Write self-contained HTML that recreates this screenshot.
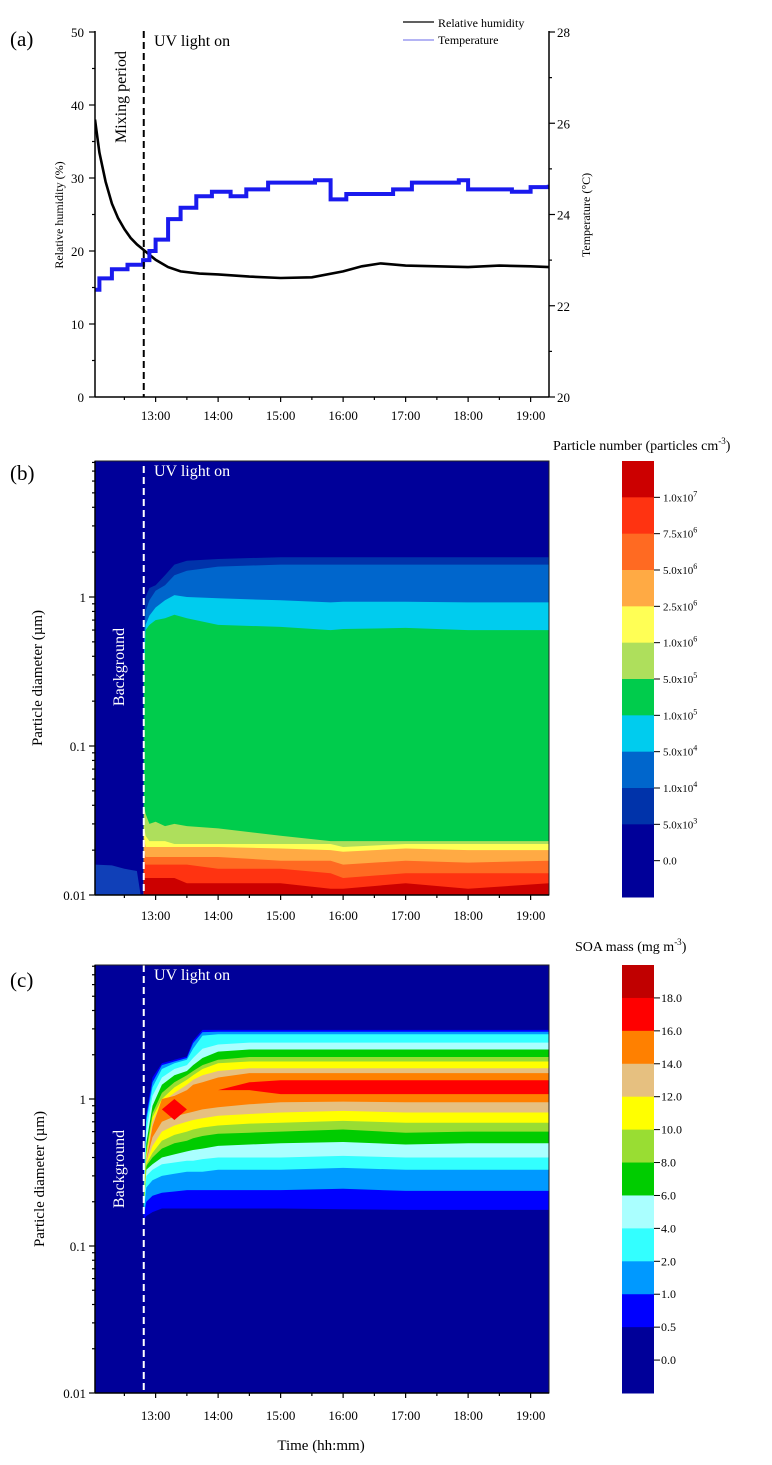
<!DOCTYPE html>
<html><head><meta charset="utf-8">
<style>
html,body{margin:0;padding:0;background:#fff;}
svg{display:block;font-family:"Liberation Serif",serif;}
</style></head>
<body>
<svg id="fig" width="772" height="1465" viewBox="0 0 772 1465" xmlns="http://www.w3.org/2000/svg">
<defs>
<clipPath id="clipA"><rect x="95" y="31" width="454" height="366"/></clipPath>
<clipPath id="clipB"><rect x="95" y="461" width="454" height="434"/></clipPath>
<clipPath id="clipC"><rect x="95" y="965" width="454" height="428"/></clipPath>
</defs>
</svg>
<script>
// ---------- Panel (a) data ----------
const rhTimes = [12.03,12.1,12.2,12.3,12.4,12.5,12.6,12.7,12.8,12.9,13.0,13.2,13.4,13.7,14.0,14.5,15.0,15.5,16.0,16.3,16.6,17.0,17.5,18.0,18.5,19.0,19.29];
const rhValues = [38,33.5,29.5,26.5,24.5,23,21.8,20.9,20.2,19.5,18.8,17.8,17.2,16.9,16.8,16.5,16.3,16.4,17.2,17.9,18.3,18.0,17.9,17.8,18.0,17.9,17.8];
const tempTimes = [12.03,12.1,12.3,12.55,12.8,12.9,13.0,13.2,13.4,13.65,13.9,14.2,14.45,14.8,15.55,15.8,16.05,16.5,16.8,17.1,17.85,18.0,18.7,19.0,19.29];
const tempValues = [22.35,22.6,22.8,22.9,23.0,23.2,23.45,23.9,24.15,24.4,24.5,24.4,24.55,24.7,24.75,24.33,24.45,24.45,24.55,24.7,24.75,24.55,24.5,24.6,24.65];
const rhTicks = [0,10,20,30,40,50];
const tempTicks = [20,22,24,26,28];
const hourTicks = [13,14,15,16,17,18,19];
const hourLabels = ["13:00","14:00","15:00","16:00","17:00","18:00","19:00"];
const uvOnTime = 12.81;

// ---------- Panel (b) data ----------
const bTimes = [12.81,12.84,12.9,13.0,13.15,13.3,13.5,14.0,15.0,15.8,16.0,17.0,18.0,19.29];
const bLevelLabels = ["5.0x10|3","1.0x10|4","5.0x10|4","1.0x10|5","5.0x10|5","1.0x10|6","2.5x10|6","5.0x10|6","7.5x10|6","1.0x10|7"];
const bColors = ["#000099","#0033aa","#0066cc","#00ccee","#00cc4c","#aedf5c","#ffff55","#ffaa44","#ff6a22","#ff3311","#cc0000"];
const bU1 = [0.6,1.0,1.15,1.2,1.4,1.65,1.75,1.8,1.85,1.85,1.85,1.85,1.85,1.85];
const bU2 = [0.5,0.8,0.95,1.1,1.2,1.4,1.5,1.6,1.65,1.65,1.65,1.65,1.65,1.65];
const bU3 = [0.4,0.65,0.75,0.85,0.95,1.03,1.0,0.98,0.95,0.92,0.93,0.93,0.92,0.92];
const bU4 = [0.3,0.6,0.65,0.7,0.72,0.76,0.72,0.65,0.63,0.6,0.61,0.62,0.6,0.6];
const bU5 = [0.04,0.035,0.03,0.031,0.029,0.03,0.029,0.028,0.025,0.023,0.023,0.023,0.023,0.023];
const bU6 = [0.03,0.025,0.023,0.023,0.023,0.022,0.022,0.022,0.022,0.022,0.021,0.022,0.022,0.022];
const bU7 = [0.025,0.021,0.021,0.021,0.021,0.021,0.021,0.021,0.0205,0.02,0.0195,0.0205,0.02,0.02];
const bU8 = [0.02,0.018,0.018,0.018,0.018,0.018,0.018,0.018,0.017,0.017,0.016,0.017,0.0165,0.017];
const bU9 = [0.017,0.016,0.016,0.016,0.016,0.016,0.016,0.015,0.015,0.014,0.013,0.014,0.014,0.014];
const bU10 = [0.013,0.013,0.013,0.013,0.013,0.013,0.012,0.012,0.012,0.011,0.011,0.012,0.011,0.012];
const bBackgroundTimes = [12.03,12.3,12.5,12.7,12.76];
const bBackgroundTop = [0.016,0.0158,0.015,0.0145,0.01];

// ---------- Panel (c) data ----------
const cTimes = [12.81,12.85,12.95,13.1,13.3,13.5,13.6,13.75,14.0,14.5,15.0,16.0,17.0,18.0,19.29];
const cLevelLabels = ["0.5","1.0","2.0","4.0","6.0","8.0","10.0","12.0","14.0","16.0","18.0"];
const cColors = ["#000099","#0000ff","#0099ff","#33ffff","#aaffff","#00cc00","#99dd33","#ffff00","#e6c080","#ff8000","#ff0000","#c00000"];
const cU05 = [0.3,0.8,1.4,1.75,1.85,1.95,2.5,2.95,2.95,2.95,2.95,2.95,2.95,2.95,2.95];
const cL05 = [0.15,0.16,0.17,0.18,0.18,0.18,0.18,0.18,0.18,0.18,0.18,0.178,0.176,0.176,0.176];
const cU1 = [0.28,0.75,1.3,1.7,1.8,1.9,2.4,2.85,2.87,2.87,2.87,2.87,2.87,2.87,2.87];
const cL1 = [0.16,0.2,0.22,0.23,0.235,0.24,0.24,0.24,0.24,0.24,0.24,0.245,0.237,0.237,0.237];
const cU2 = [0.26,0.7,1.2,1.6,1.75,1.85,2.2,2.7,2.76,2.76,2.76,2.76,2.76,2.76,2.76];
const cL2 = [0.17,0.25,0.28,0.3,0.31,0.32,0.32,0.32,0.33,0.33,0.33,0.34,0.33,0.33,0.33];
const cU4 = [0.24,0.6,1.05,1.4,1.6,1.7,1.9,2.2,2.35,2.42,2.42,2.42,2.42,2.42,2.42];
const cL4 = [0.18,0.3,0.33,0.36,0.37,0.38,0.38,0.39,0.4,0.4,0.4,0.41,0.4,0.4,0.4];
const cU6 = [0.22,0.5,0.9,1.25,1.45,1.55,1.7,1.9,2.1,2.17,2.17,2.17,2.17,2.17,2.17];
const cL6 = [0.18,0.33,0.36,0.4,0.42,0.44,0.45,0.46,0.48,0.49,0.5,0.51,0.49,0.5,0.5];
const cU8 = [0.21,0.45,0.8,1.1,1.3,1.45,1.55,1.7,1.85,1.93,1.93,1.93,1.93,1.93,1.93];
const cL8 = [0.19,0.35,0.4,0.46,0.5,0.52,0.54,0.56,0.58,0.59,0.6,0.62,0.59,0.6,0.6];
const cU10 = [0.2,0.42,0.75,1.0,1.2,1.35,1.45,1.6,1.75,1.8,1.8,1.8,1.8,1.8,1.8];
const cL10 = [0.19,0.36,0.43,0.52,0.57,0.6,0.62,0.64,0.66,0.68,0.69,0.71,0.69,0.69,0.69];
const cU12 = [0.19,0.4,0.7,0.95,1.1,1.25,1.35,1.45,1.55,1.62,1.62,1.62,1.62,1.62,1.62];
const cL12 = [0.19,0.37,0.48,0.6,0.66,0.7,0.72,0.74,0.77,0.79,0.81,0.83,0.81,0.81,0.81];
const cU14 = [0.19,0.38,0.65,1.0,1.05,1.15,1.25,1.3,1.4,1.5,1.5,1.5,1.5,1.5,1.5];
const cL14 = [0.19,0.38,0.55,0.7,0.76,0.8,0.82,0.85,0.88,0.92,0.95,0.96,0.95,0.95,0.95];
const cU16 = [0.19,0.38,0.6,0.85,1.0,0.85,0.95,1.05,1.15,1.3,1.34,1.34,1.34,1.34,1.34];
const cL16 = [0.19,0.38,0.6,0.85,0.72,0.85,0.95,1.05,1.15,1.15,1.08,1.08,1.08,1.08,1.08];

// ---------- scales ----------
const X0 = 95, X1 = 549, T0 = 12.03, PXH = 62.5;
function xT(t){ return X0 + (t - T0) * PXH; }
function yRH(v){ return 397 - v * 7.3; }
function yTemp(v){ return 397 - (v - 20) * 45.625; }
function yB(d){ return 597 - Math.log10(d) * 149; }
function yC(d){ return 1099 - Math.log10(d) * 147; }

const NS = "http://www.w3.org/2000/svg";
const svg = document.getElementById('fig');
function mk(tag, attrs, parent){
  const e = document.createElementNS(NS, tag);
  for (const k in attrs) e.setAttribute(k, attrs[k]);
  (parent || svg).appendChild(e);
  return e;
}
function txt(s, attrs, parent){
  const e = mk('text', attrs, parent);
  e.textContent = s;
  return e;
}
function supLabel(s, attrs, parent){
  const parts = s.split('|');
  const e = mk('text', attrs, parent);
  e.appendChild(document.createTextNode(parts[0]));
  if (parts[1]) {
    const sp = mk('tspan', {dy: -5, 'font-size': 8}, e);
    sp.textContent = parts[1];
  }
  return e;
}

// common x axis
function xAxis(g, yBase, labelY){
  const ax = mk('line', {x1: X0, y1: yBase, x2: X1, y2: yBase, stroke: '#000', 'stroke-width': 1.5}, g);
  
  
  for (let h = 12.5; h <= 19.01; h += 0.5) {
    const major = Math.abs(h - Math.round(h)) < 1e-6;
    const tk = mk('line', {x1: xT(h), x2: xT(h), y1: yBase, y2: yBase + (major ? 5 : 3), stroke: '#000', 'stroke-width': 1.2}, g);
    
    
  }
  hourTicks.forEach((h, i) => {
    const t = txt(hourLabels[i], {x: xT(h), y: labelY, 'text-anchor': 'middle', 'font-size': 13}, g);
    
    
  });
}
function logYAxis(g, yf, top, labels){
  const ax = mk('line', {x1: X0, y1: top, x2: X0, y2: yf(0.01), stroke: '#000', 'stroke-width': 1.5}, g);
  
  
  [0.01, 0.1, 1].forEach(dec => {
    for (let m = 1; m <= 9; m++) {
      const v = dec * m;
      const y = yf(v);
      if (y < top - 0.5) continue;
      const tk = mk('line', {x1: X0 - (m === 1 ? 6 : 3), x2: X0, y1: y, y2: y, stroke: '#000', 'stroke-width': 1.2}, g);
      
      
    }
  });
  labels.forEach((lab, i) => {
    const v = [0.01, 0.1, 1][i];
    const t = txt(lab, {x: 86, y: yf(v) + 5, 'text-anchor': 'end', 'font-size': 13}, g);
    
    
  });
}
function bandPath(times, upper, lower, yf){
  let d = '';
  times.forEach((t, i) => { d += (i ? 'L' : 'M') + xT(t).toFixed(1) + ',' + yf(upper[i]).toFixed(1); });
  for (let i = times.length - 1; i >= 0; i--) {
    const lv = lower ? lower[i] : 0.005;
    d += 'L' + xT(times[i]).toFixed(1) + ',' + yf(lv).toFixed(1);
  }
  return d + 'Z';
}

// ================= Panel (a) =================
const gA = mk('g', {});


const pa = txt('(a)', {x: 10, y: 46, 'font-size': 21}, gA);



const plotA = mk('g', {'clip-path': 'url(#clipA)'}, gA);


const rhLine = mk('polyline', {points: rhTimes.map((t, i) => xT(t).toFixed(1) + ',' + yRH(rhValues[i]).toFixed(1)).join(' '), fill: 'none', stroke: '#000', 'stroke-width': 2.6}, plotA);


let tp = '';
tempTimes.forEach((t, i) => {
  if (i > 0) tp += ' ' + xT(t).toFixed(1) + ',' + yTemp(tempValues[i - 1]).toFixed(1);
  tp += ' ' + xT(t).toFixed(1) + ',' + yTemp(tempValues[i]).toFixed(1);
});
const tLine = mk('polyline', {points: tp.trim(), fill: 'none', stroke: '#1a1aee', 'stroke-width': 4}, plotA);


const uvA = mk('line', {x1: xT(uvOnTime), x2: xT(uvOnTime), y1: 31, y2: 397, stroke: '#000', 'stroke-width': 2, 'stroke-dasharray': '7,4'}, gA);



// axes A
const aLeft = mk('line', {x1: X0, y1: 31, x2: X0, y2: 397, stroke: '#000', 'stroke-width': 1.5}, gA);


const aRight = mk('line', {x1: X1, y1: 31, x2: X1, y2: 397, stroke: '#000', 'stroke-width': 1.5}, gA);


for (let v = 0; v <= 50; v += 5) {
  const major = v % 10 === 0;
  const tk = mk('line', {x1: X0 - (major ? 6 : 3), x2: X0, y1: yRH(v), y2: yRH(v), stroke: '#000', 'stroke-width': 1.2}, gA);
  
  
}
rhTicks.forEach(v => {
  const t = txt(String(v), {x: 84, y: yRH(v) + 5, 'text-anchor': 'end', 'font-size': 13}, gA);
  
  
});
for (let v = 20; v <= 28; v += 1) {
  const major = v % 2 === 0;
  const tk = mk('line', {x1: X1, x2: X1 + (major ? 6 : 3), y1: yTemp(v), y2: yTemp(v), stroke: '#000', 'stroke-width': 1.2}, gA);
  
  
}
tempTicks.forEach(v => {
  const t = txt(String(v), {x: 557, y: yTemp(v) + 5, 'font-size': 13}, gA);
  
  
});
xAxis(gA, 397, 420);
const rhTitle = txt('Relative humidity (%)', {x: 0, y: 0, 'text-anchor': 'middle', 'font-size': 12, transform: 'translate(63,215) rotate(-90)'}, gA);


const tTitle = txt('Temperature (°C)', {x: 0, y: 0, 'text-anchor': 'middle', 'font-size': 12, transform: 'translate(590,215) rotate(-90)'}, gA);


const uvTxtA = txt('UV light on', {x: 154, y: 46, 'font-size': 16}, gA);


const mixTxt = txt('Mixing period', {x: 0, y: 0, 'text-anchor': 'middle', 'font-size': 16, transform: 'translate(126,97) rotate(-90)'}, gA);


// legend
const leg = mk('g', {}, gA);


const l1 = mk('line', {x1: 403, x2: 434, y1: 22, y2: 22, stroke: '#000', 'stroke-width': 1.2}, leg);


const lt1 = txt('Relative humidity', {x: 438, y: 27, 'font-size': 12}, leg);


const l2 = mk('line', {x1: 403, x2: 434, y1: 40, y2: 40, stroke: '#8888ee', 'stroke-width': 1.2}, leg);


const lt2 = txt('Temperature', {x: 438, y: 44, 'font-size': 12}, leg);



// ================= Panel (b) =================
const gB = mk('g', {});


const pb = txt('(b)', {x: 10, y: 480, 'font-size': 21}, gB);


const plotB = mk('g', {'clip-path': 'url(#clipB)'}, gB);


const bgB = mk('rect', {x: X0, y: 461, width: X1 - X0, height: 434, fill: bColors[0]}, plotB);


const bgPatch = mk('path', {d: bandPath(bBackgroundTimes, bBackgroundTop, null, yB), fill: '#1040b8'}, plotB);


const bUppers = [bU1, bU2, bU3, bU4, bU5, bU6, bU7, bU8, bU9, bU10];
bUppers.forEach((u, i) => {
  const p = mk('path', {d: bandPath(bTimes, u, null, yB), fill: bColors[i + 1]}, plotB);
  
  
});
const uvB = mk('line', {x1: xT(uvOnTime), x2: xT(uvOnTime), y1: 466, y2: 895, stroke: '#fff', 'stroke-width': 2, 'stroke-dasharray': '7,4'}, gB);


const frameB = mk('rect', {x: X0, y: 461, width: X1 - X0, height: 434, fill: 'none', stroke: '#222', 'stroke-width': 1}, gB);


logYAxis(gB, yB, 461, ['0.01', '0.1', '1']);
xAxis(gB, 895, 920);
const uvTxtB = txt('UV light on', {x: 154, y: 476, 'font-size': 16, fill: '#fff'}, gB);


const bgTxtB = txt('Background', {x: 0, y: 0, 'text-anchor': 'middle', 'font-size': 16, fill: '#fff', transform: 'translate(124,667) rotate(-90)'}, gB);


const yTitleB = txt('Particle diameter (µm)', {x: 0, y: 0, 'text-anchor': 'middle', 'font-size': 15, transform: 'translate(42,678) rotate(-90)'}, gB);


// colorbar b
const cbB = mk('g', {}, gB);


(function(){
  const top = 461, bot = 897, n = bColors.length, unit = (bot - top) / (n + 1);
  for (let i = 0; i < n; i++) {
    const lvl = n - 1 - i;
    const h = lvl === 0 ? unit * 2 : unit;
    const y = top + i * unit;
    const r = mk('rect', {x: 622, y: y, width: 32, height: h + 0.5, fill: bColors[lvl]}, cbB);
    
    
  }
  bLevelLabels.forEach((lab, k) => {
    const y = bot - unit * 2 - k * unit;
    const tk = mk('line', {x1: 654, x2: 660, y1: y, y2: y, stroke: '#000', 'stroke-width': 1}, cbB);
    
    
    const t = supLabel(lab, {x: 663, y: y + 4, 'font-size': 11}, cbB);
    
    
  });
  const zero = bot - unit;
  const tk0 = mk('line', {x1: 654, x2: 660, y1: zero, y2: zero, stroke: '#000', 'stroke-width': 1}, cbB);
  
  
  const t0 = txt('0.0', {x: 663, y: zero + 4, 'font-size': 11}, cbB);
  
  
  const title = mk('text', {x: 553, y: 450, 'font-size': 14}, cbB);
  title.appendChild(document.createTextNode('Particle number (particles cm'));
  const s = mk('tspan', {dy: -6, 'font-size': 9}, title);
  s.textContent = '-3';
  const s2 = mk('tspan', {dy: 6}, title);
  s2.textContent = ')';
  
  
})();

// ================= Panel (c) =================
const gC = mk('g', {});


const pc = txt('(c)', {x: 10, y: 987, 'font-size': 21}, gC);


const plotC = mk('g', {'clip-path': 'url(#clipC)'}, gC);


const bgC = mk('rect', {x: X0, y: 965, width: X1 - X0, height: 428, fill: cColors[0]}, plotC);


const cBands = [[cU05, cL05], [cU1, cL1], [cU2, cL2], [cU4, cL4], [cU6, cL6], [cU8, cL8], [cU10, cL10], [cU12, cL12], [cU14, cL14], [cU16, cL16]];
cBands.forEach((b, i) => {
  const p = mk('path', {d: bandPath(cTimes, b[0], b[1], yC), fill: cColors[i + 1]}, plotC);
  
  
});
const uvC = mk('line', {x1: xT(uvOnTime), x2: xT(uvOnTime), y1: 965, y2: 1393, stroke: '#fff', 'stroke-width': 2, 'stroke-dasharray': '7,4'}, gC);


const frameC = mk('rect', {x: X0, y: 965, width: X1 - X0, height: 428, fill: 'none', stroke: '#222', 'stroke-width': 1}, gC);


logYAxis(gC, yC, 965, ['0.01', '0.1', '1']);
xAxis(gC, 1393, 1420);
const uvTxtC = txt('UV light on', {x: 154, y: 980, 'font-size': 16, fill: '#fff'}, gC);


const bgTxtC = txt('Background', {x: 0, y: 0, 'text-anchor': 'middle', 'font-size': 16, fill: '#fff', transform: 'translate(124,1169) rotate(-90)'}, gC);


const yTitleC = txt('Particle diameter (µm)', {x: 0, y: 0, 'text-anchor': 'middle', 'font-size': 15, transform: 'translate(44,1179) rotate(-90)'}, gC);


const xTitle = txt('Time (hh:mm)', {x: 321, y: 1450, 'text-anchor': 'middle', 'font-size': 15}, gC);


const cbC = mk('g', {}, gC);


(function(){
  const top = 965, bot = 1393, n = cColors.length, unit = (bot - top) / (n + 1);
  for (let i = 0; i < n; i++) {
    const lvl = n - 1 - i;
    const h = lvl === 0 ? unit * 2 : unit;
    const y = top + i * unit;
    const r = mk('rect', {x: 622, y: y, width: 32, height: h + 0.5, fill: cColors[lvl]}, cbC);
    
    
  }
  cLevelLabels.forEach((lab, k) => {
    const y = bot - unit * 2 - k * unit;
    const tk = mk('line', {x1: 654, x2: 660, y1: y, y2: y, stroke: '#000', 'stroke-width': 1}, cbC);
    
    
    const t = txt(lab, {x: 661, y: y + 4, 'font-size': 12}, cbC);
    
    
  });
  const zero = bot - unit;
  const tk0 = mk('line', {x1: 654, x2: 660, y1: zero, y2: zero, stroke: '#000', 'stroke-width': 1}, cbC);
  
  
  const t0 = txt('0.0', {x: 661, y: zero + 4, 'font-size': 12}, cbC);
  
  
  const title = mk('text', {x: 575, y: 951, 'font-size': 14}, cbC);
  title.appendChild(document.createTextNode('SOA mass (mg m'));
  const s = mk('tspan', {dy: -6, 'font-size': 9}, title);
  s.textContent = '-3';
  const s2 = mk('tspan', {dy: 6}, title);
  s2.textContent = ')';
  
  
})();
</script>
</body></html>
